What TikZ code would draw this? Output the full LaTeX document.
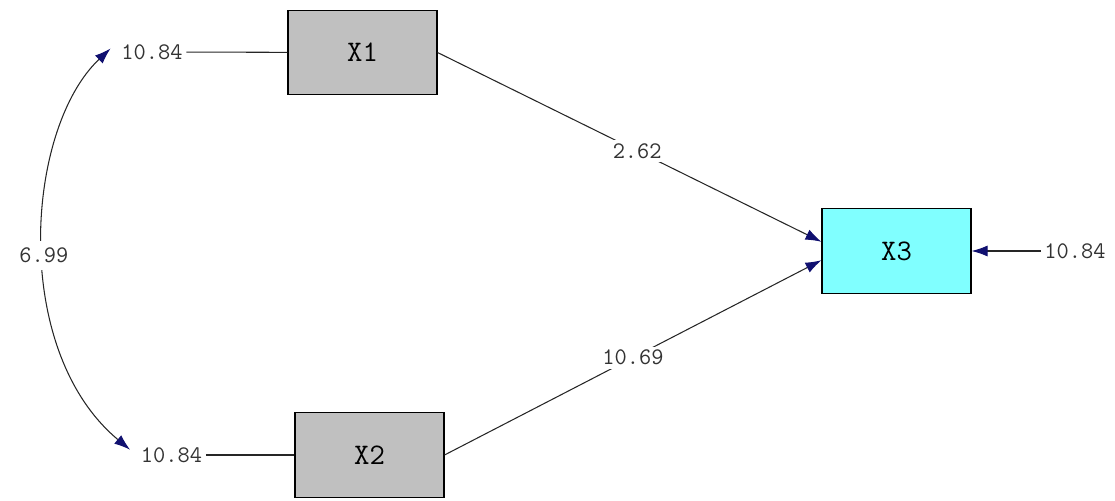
\documentclass[tikz,border=0pt]{standalone}
\usepackage{fontspec}
\usetikzlibrary{arrows.meta}
\definecolor{tipblue}{RGB}{16,16,112}
\definecolor{boxgray}{RGB}{192,192,192}
\definecolor{boxcyan}{RGB}{128,255,255}

\begin{document}
\begin{tikzpicture}
		[   vnode/.style={draw=black,fill=#1,minimum width=2.98cm,minimum height=1.69cm,rectangle,line width=0.6pt,font=\ttfamily\fontsize{17}{17}\selectfont},
		    lbl/.style={font=\ttfamily\fontsize{13.5}{13.5}\selectfont,inner sep=2pt,text=black!80},
		]
		\tikzset{normal arrow/.style={draw=black!85,line width=0.6pt,-{Latex[length=3.2mm,width=2.2mm,color=tipblue]}}}
		\tikzset{both arrow/.style={draw=black!85,line width=0.6pt,{Latex[length=3.2mm,width=2.2mm,color=tipblue]}-{Latex[length=3.2mm,width=2.2mm,color=tipblue]}}}
		\tikzset{plain line/.style={draw=black!85,line width=0.6pt}}
		\useasboundingbox (0,0) rectangle (22.3,-10.02);
		
		\node[vnode=boxgray] (x-1) at (7.25,-1.05) {X1};
		\node[vnode=boxgray] (x-2) at (7.39,-9.1) {X2};
		\node[vnode=boxcyan] (x-3) at (17.93,-5.02) {X3};
		
		\node[lbl] (e-1) at (3.04,-1.04) {10.84};
		\node[lbl] (e-2) at (3.43,-9.1) {10.84};
		\node[lbl] (e-3) at (21.5,-5.02) {10.84};
		
		
		\path[plain line] (e-1) -- (x-1);
		\path[plain line] (e-2) -- (x-2);
		\path[normal arrow] (e-3) -- (x-3);
		
		
		\path[normal arrow] (x-1.east) -- node[lbl,fill=white,pos=0.52] (g-1) {2.62} (x-3.173);
		\path[normal arrow] (x-2.east) -- node[lbl,fill=white,pos=0.5] (g-2) {10.69} (x-3.187);
		
		
		\path[both arrow] ([xshift=-4pt,yshift=2pt]e-1.west) .. controls +(-1.7,-1.6) and +(-2.4,2.0) .. node[lbl,fill=white,inner sep=4pt,pos=0.53] (c-1) {6.99} ([xshift=-4pt,yshift=3pt]e-2.west);
		
\end{tikzpicture}
\end{document}
